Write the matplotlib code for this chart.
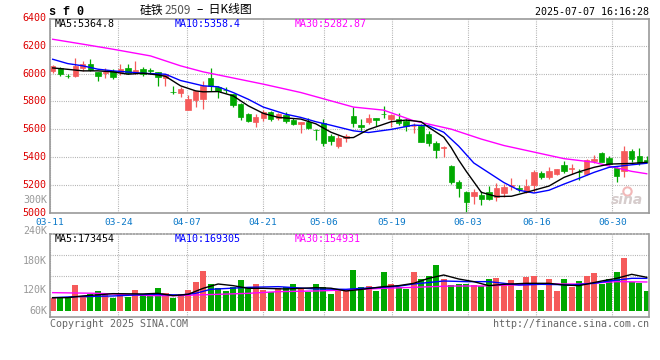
import matplotlib
matplotlib.use('Agg')
import matplotlib.pyplot as plt
import numpy as np

W, H = 660, 360

# ---- data (sf0, 2509 contract, daily) ----
dates = ['03-11', '03-24', '04-07', '04-21', '05-06', '05-19', '06-03', '06-16', '06-30']
date_idx = [0, 9, 18, 28, 36, 45, 55, 64, 74]

opens = [6019, 6038, 5985, 5983, 6040, 6067, 6012, 6007, 6019, 6012,
         6036, 6007, 6031, 6024, 6012, 5971, 5871, 5864, 5740, 5810,
         5816, 5966, 5904, 5883, 5852, 5785, 5709, 5650, 5685, 5728,
         5685, 5702, 5667, 5638, 5650, 5597, 5643, 5554, 5483, 5538,
         5697, 5631, 5650, 5681, 5712, 5678, 5673, 5657, 5624, 5626,
         5566, 5505, 5469, 5340, 5226, 5154, 5126, 5130, 5154, 5114,
         5145, 5193, 5181, 5153, 5205, 5288, 5260, 5284, 5348, 5317,
         5296, 5284, 5372, 5428, 5395, 5326, 5305, 5446, 5408, 5382]
closes = [6055, 5995, 5981, 6054, 6066, 6022, 5983, 6012, 5976, 6031,
          6007, 6024, 6000, 6021, 5976, 5995, 5868, 5888, 5817, 5872,
          5911, 5910, 5876, 5879, 5776, 5690, 5662, 5690, 5728, 5674,
          5709, 5662, 5638, 5655, 5609, 5595, 5502, 5519, 5538, 5555,
          5643, 5614, 5681, 5664, 5708, 5700, 5643, 5621, 5628, 5507,
          5500, 5454, 5474, 5221, 5178, 5083, 5154, 5102, 5102, 5181,
          5185, 5200, 5176, 5195, 5295, 5260, 5300, 5319, 5300, 5322,
          5293, 5384, 5392, 5370, 5352, 5270, 5445, 5390, 5362, 5366]
highs = [6062, 6048, 6000, 6114, 6090, 6105, 6012, 6043, 6031, 6067,
         6067, 6086, 6048, 6043, 6012, 6000, 5910, 5900, 5848, 5878,
         5947, 6038, 5912, 5900, 5852, 5790, 5714, 5709, 5738, 5733,
         5721, 5726, 5685, 5655, 5681, 5602, 5674, 5566, 5559, 5566,
         5757, 5673, 5709, 5681, 5766, 5709, 5714, 5673, 5643, 5638,
         5590, 5519, 5483, 5345, 5238, 5162, 5173, 5162, 5197, 5214,
         5213, 5253, 5200, 5248, 5307, 5300, 5331, 5319, 5372, 5355,
         5319, 5391, 5419, 5438, 5407, 5331, 5478, 5457, 5466, 5410]
lows = [6005, 5983, 5967, 5975, 6019, 6015, 5943, 5971, 5964, 5990,
        5995, 5995, 5983, 5995, 5912, 5912, 5852, 5833, 5740, 5757,
        5745, 5876, 5824, 5864, 5762, 5669, 5650, 5614, 5657, 5657,
        5669, 5643, 5633, 5574, 5602, 5524, 5483, 5488, 5466, 5507,
        5614, 5585, 5638, 5626, 5681, 5614, 5633, 5590, 5578, 5507,
        5483, 5393, 5400, 5209, 5114, 5007, 5066, 5059, 5095, 5085,
        5120, 5165, 5152, 5148, 5153, 5248, 5243, 5272, 5291, 5284,
        5236, 5272, 5360, 5368, 5343, 5224, 5258, 5367, 5348, 5360]
volume_k = [89.5, 96.2, 89.5, 142.8, 96.2, 105.5, 118.9, 105.5, 92.2, 105.5,
            96.2, 122.9, 105.5, 105.5, 132.2, 109.5, 92.2, 105.5, 122.9, 156.2,
            200.2, 146.8, 132.2, 118.9, 134.9, 162.8, 136.2, 146.8, 122.9, 113.5,
            129.5, 133.5, 146.8, 126.9, 116.2, 146.8, 136.2, 106.9, 118.9, 122.0,
            202.8, 133.5, 138.8, 118.9, 194.8, 145.5, 136.2, 126.9, 194.8, 166.8,
            178.8, 222.8, 166.8, 142.8, 146.8, 146.8, 142.8, 140.2, 166.8, 172.2,
            142.8, 162.8, 122.9, 174.8, 178.8, 122.9, 166.8, 118.9, 166.8, 136.2,
            158.8, 178.8, 190.8, 146.8, 166.8, 194.8, 252.2, 154.8, 150.8, 118.9]

# price moving averages (read at a subset of days)
ma5_x = [0, 2, 4, 6, 8, 10, 12, 14, 15, 17, 19, 20, 22, 24, 26, 28, 30, 33, 35, 37,
         39, 40, 42, 45, 47, 49, 50, 52, 53, 54, 55, 56, 57, 59, 61, 63, 66, 68, 70, 72,
         74, 77, 79]
ma5_y = [6040, 6030, 6019, 6019, 6012, 5995, 6002, 5990, 5980, 5912, 5876, 5869, 5871, 5840,
         5769, 5715, 5686, 5674, 5640, 5580, 5540, 5542, 5600, 5655, 5667, 5655, 5615, 5545,
         5470, 5380, 5300, 5225, 5150, 5120, 5122, 5150, 5195, 5257, 5297, 5329, 5352, 5357, 5365]
ma10_x = [0, 2, 4, 6, 8, 12, 15, 17, 20, 22, 24, 26, 28, 31, 33, 35, 37, 40, 42, 45,
          48, 50, 52, 54, 56, 58, 60, 62, 64, 66, 68, 70, 72, 74, 77, 79]
ma10_y = [6102, 6071, 6055, 6031, 6019, 6002, 5995, 5950, 5912, 5905, 5864, 5816, 5760, 5709,
          5686, 5655, 5630, 5590, 5578, 5600, 5631, 5626, 5580, 5480, 5360, 5290, 5220, 5165,
          5145, 5165, 5209, 5250, 5293, 5329, 5347, 5358]
ma30_x = [0, 4, 8, 13, 17, 20, 22, 28, 33, 40, 44, 48, 53, 57, 60, 64, 68, 72, 75, 77, 79]
ma30_y = [6245, 6210, 6174, 6126, 6055, 6012, 5990, 5924, 5864, 5760, 5738, 5662, 5602, 5531,
          5485, 5438, 5391, 5365, 5325, 5300, 5283]

# volume moving averages, in thousands
vma5_x = [0, 2, 4, 8, 12, 14, 16, 18, 20, 22, 24, 26, 28, 31, 33, 35, 37, 39, 41, 44,
          46, 48, 50, 52, 54, 56, 58, 60, 63, 66, 68, 70, 73, 75, 77, 79]
vma5_y = [92, 92.2, 98.9, 108.2, 107, 109.5, 100.2, 105.5, 129.5, 146.8, 140.2, 129.5, 129.5,
          126.9, 129.5, 132.2, 130, 118.9, 125, 136.2, 140.2, 149.5, 169.5, 182.8, 166.8,
          156.2, 140.2, 145.5, 149.5, 149.5, 142.8, 140.2, 158.8, 169.5, 185.5, 173.5]
vma10_x = [0, 3, 8, 13, 17, 19, 21, 26, 30, 35, 39, 41, 44, 46, 48, 52, 55, 58, 60, 62,
           65, 67, 69, 72, 74, 77, 79]
vma10_y = [92.2, 96.2, 98.9, 105.5, 102.9, 109.5, 125.5, 133.5, 136.2, 126.9, 125.5, 129.5,
           133.5, 138, 146.8, 158.8, 156.2, 156.2, 149.5, 142.8, 145.5, 144.5, 142.8, 149.5,
           158.8, 169.5, 169.3]
vma30_x = [0, 6, 13, 17, 19, 22, 26, 30, 35, 39, 44, 48, 53, 57, 61, 66, 70, 75, 79]
vma30_y = [112.2, 109.5, 100.2, 100.2, 102.9, 105.5, 109.5, 116.2, 118.9, 122.9, 129.5,
           133.5, 138.8, 138.8, 142.8, 146.8, 146.8, 156.2, 154.9]

price_ticks = [6400, 6200, 6000, 5800, 5600, 5400, 5200, 5000]
vol_labels = ['300K', '240K', '180K', '120K', '60K']

# ---- style ----
RED = '#f55a5a'
GREEN = '#00a800'
GRID = '#a8a8a8'
FRAME = '#999999'
MONO = 'DejaVu Sans Mono'
VOL_BASE = 40  # sina draws the bars up from the bottom of its range

fig = plt.figure(figsize=(6.6, 3.6), dpi=100)
fig.patch.set_facecolor('white')


def box(l, t, r, b):
    return [l / W, 1 - b / H, (r - l) / W, (b - t) / H]


def ftext(x, y, s, **kw):
    kw.setdefault('va', 'center')
    kw.setdefault('fontsize', 7.2)
    kw.setdefault('family', MONO)
    fig.text(x / W, 1 - y / H, s, **kw)


ax = fig.add_axes(box(50, 19, 649.3, 213.3))
axv = fig.add_axes(box(50, 234.3, 649.3, 317.3))

x = np.arange(len(opens))
o = np.array(opens)
c = np.array(closes)
cols = np.where(c >= o, RED, GREEN)

# date grid is drawn at a slightly wider pitch than the candles
grid_x = [-0.36 + 1.0106 * i for i in date_idx]

for a in (ax, axv):
    a.set_xlim(-0.36, 79.34)
    a.set_xticks([])
    a.set_yticks([])
    for s in a.spines.values():
        s.set_color(FRAME)
        s.set_linewidth(1.2)
    for gx in grid_x:
        a.axvline(gx, color=GRID, lw=0.8, ls=(0, (0.8, 1.2)), zorder=0)

# ---- price panel ----
ax.set_ylim(5000, 6390)
for p in price_ticks[1:-1]:
    ax.axhline(p, color=GRID, lw=0.8, ls=(0, (0.8, 1.2)), zorder=0)

ax.vlines(x, lows, highs, colors=cols, lw=0.9, zorder=2)
ax.bar(x, np.abs(c - o), bottom=np.minimum(o, c), width=0.72, color=cols,
       edgecolor=cols, linewidth=0.5, zorder=2)

ax.plot(ma30_x, ma30_y, color='#ff00ff', lw=1.0, zorder=3)
ax.plot(ma10_x, ma10_y, color='#0000ff', lw=1.0, zorder=3)
ax.plot(ma5_x, ma5_y, color='black', lw=1.0, zorder=4)

for p in price_ticks:
    ax.text(-0.006, p, str(p), transform=ax.get_yaxis_transform(), ha='right',
            va='center', color='#dd0000', fontsize=7.2, family=MONO, clip_on=False)
for gx, d in zip(grid_x, dates):
    ax.text(gx, -0.045, d, transform=ax.get_xaxis_transform(), ha='center', va='center',
            color='#0a78c8', fontsize=6.8, family=MONO, clip_on=False)

# sina watermark
ax.plot(0.962, 0.115, 'o', ms=6, mfc='none', mec='#f2b8b8', mew=1.5,
        transform=ax.transAxes, zorder=1)
ax.text(0.962, 0.07, 'sina', transform=ax.transAxes, ha='center', va='center',
        fontsize=10, fontweight='bold', style='italic', color='#d6cccc', zorder=1)

# ---- volume panel ----
vol = np.array(volume_k)
axv.set_ylim(13.6, 345.6)
axv.spines['top'].set_linestyle((0, (0.8, 1.2)))
for f in (0.25, 0.5, 0.75):
    axv.plot([0, 1], [f, f], transform=axv.transAxes, color=GRID, lw=0.8,
             ls=(0, (0.8, 1.2)), zorder=0)
axv.bar(x, vol - VOL_BASE, bottom=VOL_BASE, width=0.8, color=cols, linewidth=0, zorder=2)
axv.plot(vma30_x, vma30_y, color='#ff00ff', lw=1.0, zorder=3)
axv.plot(vma10_x, vma10_y, color='#0000ff', lw=1.0, zorder=3)
axv.plot(vma5_x, vma5_y, color='black', lw=1.0, zorder=4)

for lab, yy in zip(vol_labels, [200, 230.7, 261, 290, 311]):
    ftext(47, yy, lab, ha='right', color='#999999')

# ---- header / legends / footer ----
ftext(49, 12, 's f 0', fontsize=8.5, fontweight='bold', family='Liberation Mono')
cjk = ['Noto Sans CJK SC', 'DejaVu Sans']
ftext(140, 10, '硅铁', fontsize=8.5, family=cjk)
ftext(164, 10, '2509', fontsize=8.5, family=cjk, color='#555555')
ftext(197, 10, '–  日K线图', fontsize=8.5, family=cjk)
ftext(649, 12, '2025-07-07 16:16:28', ha='right')

ftext(55, 24, 'MA5:5364.8', color='black')
ftext(175, 24, 'MA10:5358.4', color='#0000ff')
ftext(295, 24, 'MA30:5282.87', color='#ff00ff')
ftext(55, 239, 'MA5:173454', color='black')
ftext(175, 239, 'MA10:169305', color='#0000ff')
ftext(295, 239, 'MA30:154931', color='#ff00ff')

ftext(50, 324, 'Copyright 2025 SINA.COM', color='#666666')
ftext(649, 324, 'http://finance.sina.com.cn', ha='right', color='#666666')

fig.savefig('out.png', dpi=100)
